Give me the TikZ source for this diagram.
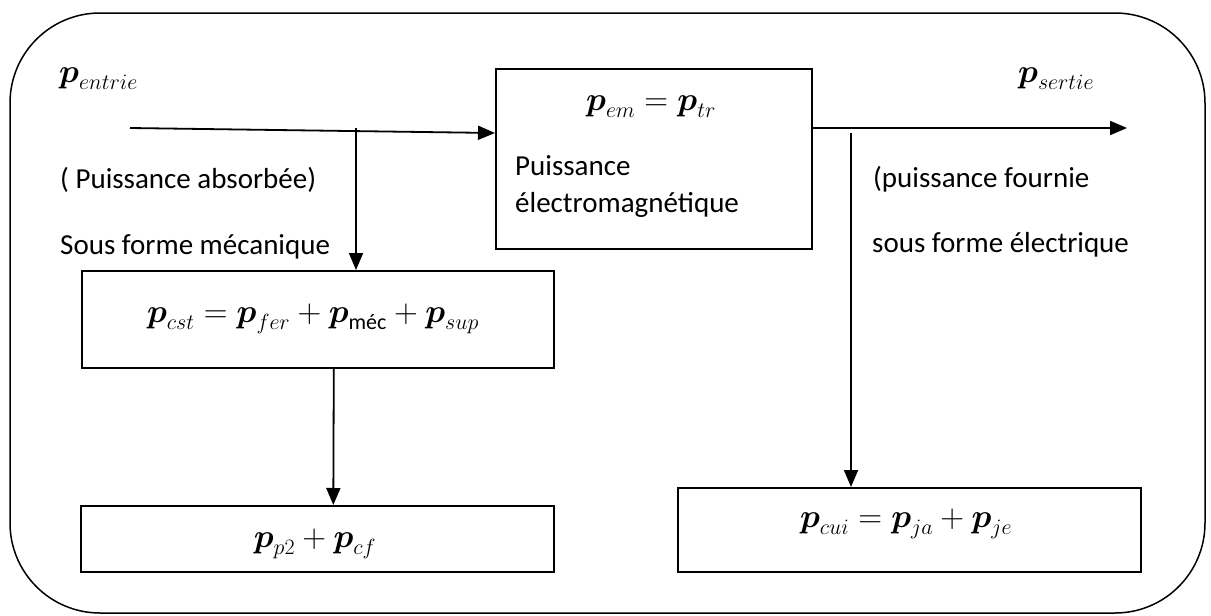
\RequirePackage{fix-cm}
\documentclass[tikz,border=0pt]{standalone}
\usepackage{amsmath}
\usepackage{fontspec}
\setmainfont{Carlito}
\DeclareMathSizes{33}{33}{22}{16}
\usetikzlibrary{arrows.meta}
\begin{document}
\begin{tikzpicture}[x=1pt,y=-1pt,
  box/.style={draw,line width=1.6pt,inner sep=0pt,anchor=north west},
  txt/.style={font=\fontsize{29}{35}\selectfont,inner sep=0pt,anchor=base west},
  mtxt/.style={font=\fontsize{33}{40}\selectfont,inner sep=0pt,anchor=base west},
  eq/.style={font=\fontsize{33}{40}\selectfont,inner sep=0pt,anchor=base},
  flow/.style={line width=1.8pt,-{Triangle[length=17pt,width=14pt]}},
  frame/.style={line width=1.5pt,rounded corners=90pt}]
\useasboundingbox (0,0) rectangle (1211,616);
\draw[frame] (10,13) rectangle (1205,613);

% boxes
\node[box,minimum width=316pt,minimum height=180pt] (em) at (495,68) {};
\node[box,minimum width=472pt,minimum height=97pt] (cst) at (81,270) {};
\node[box,minimum width=473pt,minimum height=66pt] (p2) at (80,505) {};
\node[box,minimum width=463pt,minimum height=84pt] (cui) at (677,487) {};

% box contents
\node[eq] (emeq) at (651,110) {$\boldsymbol{p}_{em}=\boldsymbol{p}_{tr}$};
\node[txt] (emt1) at (515,175) {Puissance};
\node[txt] (emt2) at (515,212) {électromagnétique};
\node[eq] (csteq) at (313,322) {$\boldsymbol{p}_{cst}=\boldsymbol{p}_{fer}+\boldsymbol{p}_{\text{méc}}+\boldsymbol{p}_{sup}$};
\node[eq] (p2eq) at (315,547) {$\boldsymbol{p}_{p2}+\boldsymbol{p}_{cf}$};
\node[eq] (cuieq) at (906,527) {$\boldsymbol{p}_{cui}=\boldsymbol{p}_{ja}+\boldsymbol{p}_{je}$};

% free labels
\node[mtxt] (pin) at (59,82) {$\boldsymbol{p}_{entrie}$};
\node[mtxt] (pout) at (1018,82) {$\boldsymbol{p}_{sertie}$};
\node[txt] (abs) at (60,188) {( Puissance absorbée)};
\node[txt] (meca) at (60,254) {Sous forme mécanique};
\node[txt] (four) at (873,187) {(puissance fournie};
\node[txt] (elec) at (872,252) {sous forme électrique};

% connectors
\coordinate (in) at (130,128);
\coordinate (br) at (356,128);
\coordinate (out) at (1127,128);
\coordinate (br2) at (851,133);
\draw[flow] (in) -- ([yshift=-65pt]em.north west);
\draw[flow] (br) -- (cst.north -| br);
\draw[flow] ([xshift=16pt]cst.south) -- ([xshift=16pt]p2.north);
\draw[flow] ([yshift=-60pt]em.north east) -- (out);
\draw[flow] (br2) -- (cui.north -| br2);
\end{tikzpicture}
\end{document}
